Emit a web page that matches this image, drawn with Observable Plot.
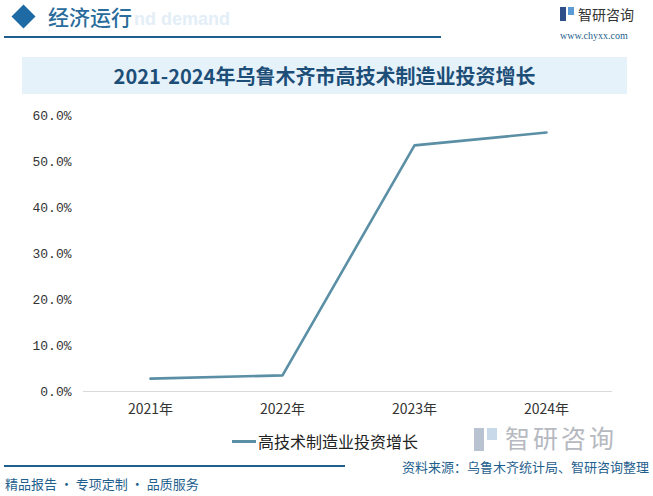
<!DOCTYPE html>
<html>
<head>
<meta charset="utf-8">
<script src="https://cdn.jsdelivr.net/npm/d3@7"></script>
<script src="https://cdn.jsdelivr.net/npm/@observablehq/plot@0.6"></script>
<style>
  html, body { margin: 0; padding: 0; background: #fff; }
  #wrap { position: relative; width: 653px; height: 496px; overflow: hidden; font-family: "Noto Sans CJK SC", sans-serif; }
  .abs { position: absolute; white-space: nowrap; line-height: 1; }
  #chart { position: absolute; left: 0; top: 100px; }
</style>
</head>
<body>
<div id="wrap">
  <!-- header -->
  <div class="abs" style="left:15px;top:8px;width:17px;height:17px;background:#1e6aa5;transform:rotate(45deg);"></div>
  <div class="abs" style="left:134px;top:10px;font-family:'Liberation Sans',sans-serif;font-weight:bold;font-size:18px;color:#e3eef7;">nd demand</div>
  <div class="abs" style="left:48px;top:6px;font-size:21px;color:#2a6c9c;font-weight:500;">经济运行</div>
  <div class="abs" style="left:4px;top:36px;width:437px;height:1.5px;background:#1f5f8e;"></div>
  <div class="abs" style="left:560px;top:7px;width:14px;height:14px;">
    <div style="position:absolute;left:0;top:0;width:6px;height:14px;background:#2e4f8a;"></div>
    <div style="position:absolute;left:8px;top:0;width:6px;height:8px;background:#5a9bd5;"></div>
  </div>
  <div class="abs" style="left:578px;top:7px;font-size:14px;color:#333;">智研咨询</div>
  <div class="abs" style="left:560px;top:31px;font-family:'Liberation Serif',serif;font-size:10px;color:#1f5f8e;">www.chyxx.com</div>

  <!-- title band -->
  <div class="abs" style="left:22px;top:57px;width:605px;height:37px;background:#e6f2fa;"></div>
  <div class="abs" style="left:22px;top:57px;width:605px;height:37px;line-height:37px;text-align:center;font-size:20px;font-weight:bold;color:#1d4e78;" id="title"></div>

  <div id="chart"></div>

  <!-- legend -->
  <div class="abs" style="left:232px;top:440px;width:24px;height:3px;background:#5b8fa5;"></div>
  <div class="abs" style="left:258px;top:433px;font-size:16px;color:#222;" id="legend"></div>

  <!-- watermark logo -->
  <div class="abs" style="left:474px;top:428px;width:23px;height:23px;">
    <div style="position:absolute;left:0;top:0;width:10px;height:23px;background:#b9c2d0;"></div>
    <div style="position:absolute;left:13px;top:0;width:10px;height:12px;background:#c8daea;"></div>
  </div>
  <div class="abs" style="left:505px;top:425px;font-size:25px;color:#b6b9bf;letter-spacing:3px;">智研咨询</div>

  <!-- footer -->
  <div class="abs" style="left:4px;top:465px;width:341px;height:1.5px;background:#1f5f8e;"></div>
  <div class="abs" style="right:4px;top:460px;font-size:13px;color:#1f5f8e;" id="source"></div>
  <div class="abs" style="left:5px;top:477px;font-size:13px;color:#1f5f8e;">精品报告 · 专项定制 · 品质服务</div>
</div>
<script>
const years = ["2021年", "2022年", "2023年", "2024年"];
const growth = [2.8, 3.5, 53.5, 56.3];
const yTicks = [0, 10, 20, 30, 40, 50, 60];
const seriesName = "高技术制造业投资增长";
const titleText = "2021-2024年乌鲁木齐市高技术制造业投资增长";
const sourceText = "资料来源：乌鲁木齐统计局、智研咨询整理";

document.getElementById("title").textContent = titleText;
document.getElementById("legend").textContent = seriesName;
document.getElementById("source").textContent = sourceText;

const data = years.map((y, i) => ({year: y, value: growth[i]}));

const chart = Plot.plot({
  width: 653,
  height: 330,
  marginTop: 15,
  marginBottom: 39,
  marginLeft: 83,
  marginRight: 41,
  style: {background: "transparent", fontFamily: "'Liberation Mono', monospace", fontSize: "13px", color: "#333"},
  x: {type: "point", domain: years, padding: 0.5, label: null},
  y: {domain: [0, 60], ticks: yTicks, label: null},
  marks: [
    Plot.ruleY([0], {stroke: "#d9d9d9", strokeWidth: 1}),
    Plot.axisY({ticks: yTicks, tickSize: 0, tickPadding: 12, tickFormat: d => d.toFixed(1) + "%", fontSize: 13, fill: "#333", fontFamily: "'Liberation Mono', monospace"}),
    Plot.axisX({tickSize: 0, tickPadding: 13, fontSize: 14, fill: "#333", fontFamily: "'Noto Sans CJK SC', sans-serif"}),
    Plot.line(data, {x: "year", y: "value", stroke: "#5b8fa5", strokeWidth: 2.6})
  ]
});
document.getElementById("chart").appendChild(chart);
</script>
</body>
</html>
